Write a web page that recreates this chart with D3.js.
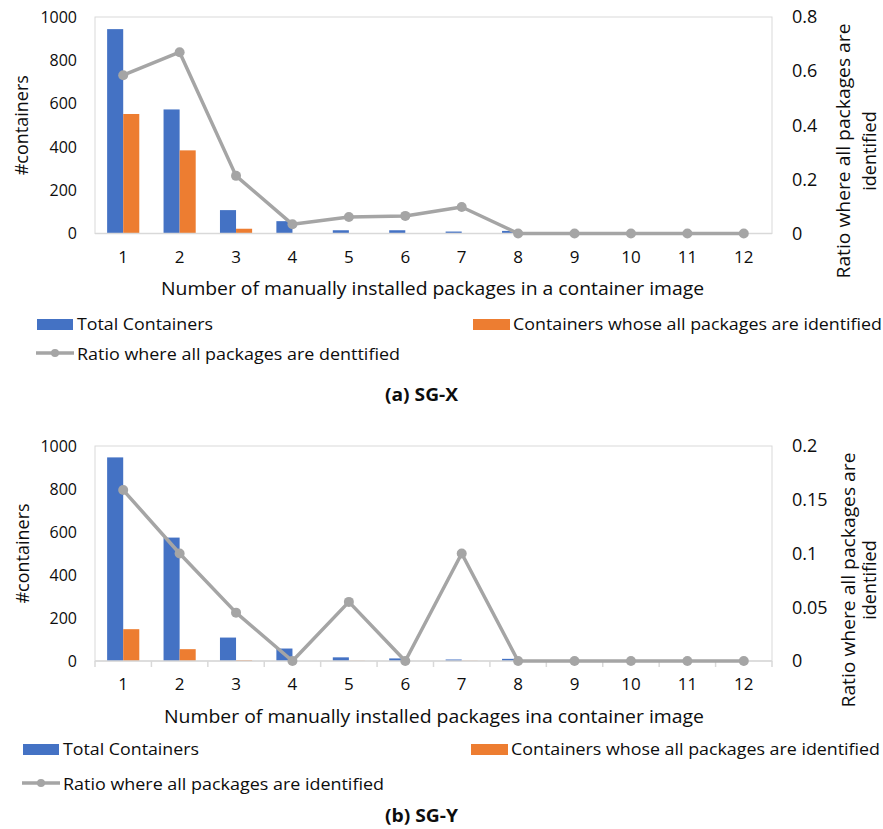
<!DOCTYPE html>
<html>
<head>
<meta charset="utf-8">
<script src="https://cdn.jsdelivr.net/npm/d3@7/dist/d3.min.js"></script>
<style>
  html, body { margin: 0; padding: 0; background: #fff; }
  svg { display: block; font-family: "Open Sans", sans-serif; }
</style>
</head>
<body>
<script>
// categories: number of manually installed packages
const categories = ['1', '2', '3', '4', '5', '6', '7', '8', '9', '10', '11', '12'];

// (a) SG-X
const totalX = [944, 573, 108, 57, 15, 15, 9, 12, 0, 0, 0, 0];
const identX = [552, 384, 22, 2, 1, 1, 1, 0, 0, 0, 0, 0];
const ratioX = [0.585, 0.67, 0.213, 0.034, 0.061, 0.065, 0.098, 0, 0, 0, 0, 0];

// (b) SG-Y
const totalY = [947, 574, 109, 58, 17, 12, 7, 10, 0, 0, 0, 0];
const identY = [148, 55, 4, 0, 1, 0, 1, 0, 0, 0, 0, 0];
const ratioY = [0.159, 0.1, 0.045, 0, 0.055, 0, 0.1, 0, 0, 0, 0, 0];

const countTicks = [0, 200, 400, 600, 800, 1000];
const ratioTicksX = [0, 0.2, 0.4, 0.6, 0.8];
const ratioTicksY = [0, 0.05, 0.1, 0.15, 0.2];

const BLUE = '#4472C4', ORANGE = '#ED7D31', GRAY = '#A5A5A5', BORDER = '#D9D9D9', TXT = '#0d0d0d';

const svg = d3.select('body').append('svg')
    .attr('width', 883)
    .attr('height', 829);

function drawChart(cfg) {
    const left = 95, right = 772;
    const x = d3.scaleBand().domain(categories).range([left, right]);
    const y = d3.scaleLinear().domain([0, 1000]).range([cfg.bottom, cfg.top]);
    const y2 = d3.scaleLinear().domain([0, d3.max(cfg.ratioTicks)]).range([cfg.bottom, cfg.top]);
    const bw = x.bandwidth() * 0.285;
    const cx = d => x(d) + x.bandwidth() / 2;

    // plot area border
    svg.append('rect')
        .attr('x', left).attr('y', cfg.top)
        .attr('width', right - left).attr('height', cfg.bottom - cfg.top)
        .attr('fill', 'none').attr('stroke', BORDER).attr('stroke-width', 1);

    // bars
    svg.append('g').selectAll('rect')
        .data(categories)
        .enter().append('rect')
        .attr('x', d => cx(d) - bw)
        .attr('y', (d, i) => y(cfg.total[i]))
        .attr('width', bw)
        .attr('height', (d, i) => cfg.bottom - y(cfg.total[i]))
        .attr('fill', BLUE);

    svg.append('g').selectAll('rect')
        .data(categories)
        .enter().append('rect')
        .attr('x', d => cx(d))
        .attr('y', (d, i) => y(cfg.ident[i]))
        .attr('width', bw)
        .attr('height', (d, i) => cfg.bottom - y(cfg.ident[i]))
        .attr('fill', ORANGE);

    // x axis line
    svg.append('line')
        .attr('x1', left).attr('x2', right)
        .attr('y1', cfg.bottom).attr('y2', cfg.bottom)
        .attr('stroke', BORDER).attr('stroke-width', 1.5);

    // category boundary ticks (only chart b has them)
    if (cfg.boundaryTicks) {
        svg.append('g').selectAll('line')
            .data(d3.range(categories.length + 1))
            .enter().append('line')
            .attr('x1', i => left + i * x.step()).attr('x2', i => left + i * x.step())
            .attr('y1', cfg.bottom).attr('y2', cfg.bottom + 6)
            .attr('stroke', BORDER).attr('stroke-width', 1.5);
    }

    // axes
    const ax = svg.append('g')
        .attr('transform', 'translate(0,' + cfg.bottom + ')')
        .call(d3.axisBottom(x).tickSize(0).tickPadding(17));
    ax.select('.domain').remove();
    ax.selectAll('text').attr('font-size', 17).attr('fill', TXT).attr('font-family', '"Open Sans", sans-serif');

    const ay = svg.append('g')
        .attr('transform', 'translate(' + left + ',0)')
        .call(d3.axisLeft(y).tickValues(countTicks).tickSize(0).tickPadding(18)
            .tickFormat(d3.format('d')));
    ay.select('.domain').remove();
    ay.selectAll('text').attr('font-size', 16).attr('fill', TXT).attr('font-family', '"Open Sans", sans-serif');

    const ay2 = svg.append('g')
        .attr('transform', 'translate(' + right + ',0)')
        .call(d3.axisRight(y2).tickValues(cfg.ratioTicks).tickSize(0).tickPadding(20)
            .tickFormat(d3.format('')));
    ay2.select('.domain').remove();
    ay2.selectAll('text').attr('font-size', 18).attr('fill', TXT).attr('font-family', '"Open Sans", sans-serif');

    // ratio line
    const line = d3.line()
        .x((d, i) => cx(categories[i]))
        .y(d => y2(d));
    svg.append('path')
        .datum(cfg.ratio)
        .attr('d', line)
        .attr('fill', 'none')
        .attr('stroke', GRAY)
        .attr('stroke-width', 3.5)
        .attr('stroke-linejoin', 'round');
    svg.append('g').selectAll('circle')
        .data(cfg.ratio)
        .enter().append('circle')
        .attr('cx', (d, i) => cx(categories[i]))
        .attr('cy', d => y2(d))
        .attr('r', 5)
        .attr('fill', GRAY);

    // axis titles
    svg.append('text')
        .attr('transform', 'translate(' + cfg.leftTitleX + ',' + (cfg.top + cfg.bottom) / 2 + ') rotate(-90)')
        .attr('text-anchor', 'middle')
        .attr('font-size', 18).attr('fill', TXT)
        .text('#containers');

    svg.append('text')
        .attr('transform', 'translate(' + cfg.rightTitleX + ',' + cfg.rightTitleY + ') rotate(-90)')
        .attr('text-anchor', 'middle')
        .attr('font-size', 18).attr('fill', TXT)
        .attr('textLength', 255).attr('lengthAdjust', 'spacingAndGlyphs')
        .text('Ratio where all packages are');
    svg.append('text')
        .attr('transform', 'translate(' + (cfg.rightTitleX + cfg.rightTitleGap) + ',' + cfg.rightTitleY + ') rotate(-90)')
        .attr('text-anchor', 'middle')
        .attr('font-size', 18).attr('fill', TXT)
        .text('identified');

    svg.append('text')
        .attr('x', cfg.xTitleX).attr('y', cfg.xTitleY)
        .attr('font-size', 18).attr('fill', TXT)
        .attr('textLength', cfg.xTitleLen).attr('lengthAdjust', 'spacingAndGlyphs')
        .text(cfg.xTitle);

    // legend
    const L = cfg.legend;
    svg.append('rect').attr('x', L.x1).attr('y', L.row1 - 11).attr('width', 36).attr('height', 11).attr('fill', BLUE);
    svg.append('text').attr('x', L.x1 + 40).attr('y', L.row1)
        .attr('font-size', 17).attr('fill', TXT)
        .attr('textLength', 136).attr('lengthAdjust', 'spacingAndGlyphs')
        .text('Total Containers');
    svg.append('rect').attr('x', L.x2).attr('y', L.row1 - 11).attr('width', 37).attr('height', 11).attr('fill', ORANGE);
    svg.append('text').attr('x', L.x2 + 40).attr('y', L.row1)
        .attr('font-size', 17).attr('fill', TXT)
        .attr('textLength', 369).attr('lengthAdjust', 'spacingAndGlyphs')
        .text('Containers whose all packages are identified');
    svg.append('line').attr('x1', L.x1 - 1).attr('x2', L.x1 + 37)
        .attr('y1', L.row2 - 7).attr('y2', L.row2 - 7)
        .attr('stroke', GRAY).attr('stroke-width', 3.5);
    svg.append('circle').attr('cx', L.x1 + 18).attr('cy', L.row2 - 7).attr('r', 4).attr('fill', GRAY);
    svg.append('text').attr('x', L.x1 + 40).attr('y', L.row2)
        .attr('font-size', 17).attr('fill', TXT)
        .attr('textLength', L.ratioLen).attr('lengthAdjust', 'spacingAndGlyphs')
        .text(L.ratioLabel);

    // caption
    svg.append('text')
        .attr('x', 385).attr('y', cfg.captionY)
        .attr('font-size', 17).attr('font-weight', 'bold').attr('fill', TXT)
        .attr('textLength', 73).attr('lengthAdjust', 'spacingAndGlyphs')
        .text(cfg.caption);
}

drawChart({
    top: 17, bottom: 233.5,
    total: totalX, ident: identX, ratio: ratioX, ratioTicks: ratioTicksX,
    boundaryTicks: false,
    leftTitleX: 28, rightTitleX: 850, rightTitleGap: 26, rightTitleY: 151,
    xTitle: 'Number of manually installed packages in a container image',
    xTitleX: 161, xTitleY: 295, xTitleLen: 543,
    legend: { x1: 37, x2: 473, row1: 330, row2: 360, ratioLen: 323,
        ratioLabel: 'Ratio where all packages are denttified' },
    caption: '(a) SG-X', captionY: 401
});

drawChart({
    top: 446, bottom: 661,
    total: totalY, ident: identY, ratio: ratioY, ratioTicks: ratioTicksY,
    boundaryTicks: true,
    leftTitleX: 29, rightTitleX: 855, rightTitleGap: 21, rightTitleY: 580,
    xTitle: 'Number of manually installed packages ina container image',
    xTitleX: 164, xTitleY: 723, xTitleLen: 540,
    legend: { x1: 23, x2: 471, row1: 755, row2: 790, ratioLen: 321,
        ratioLabel: 'Ratio where all packages are identified' },
    caption: '(b) SG-Y', captionY: 822
});
</script>
</body>
</html>
